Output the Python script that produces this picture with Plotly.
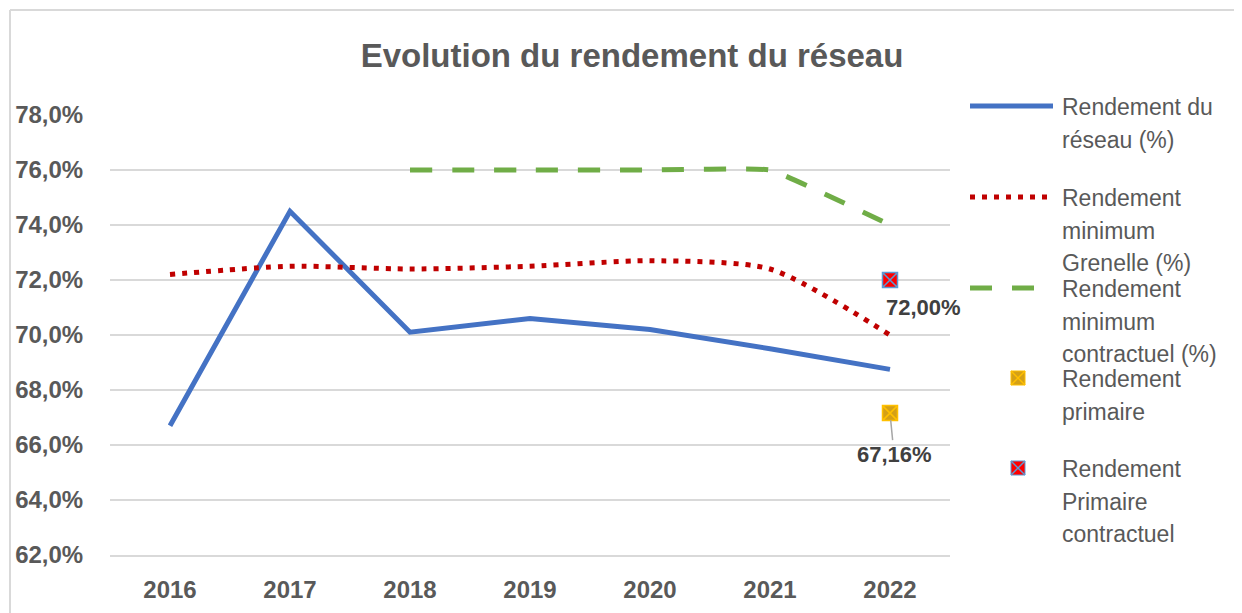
import plotly.graph_objects as go

years = ["2016", "2017", "2018", "2019", "2020", "2021", "2022"]
rendement_reseau = [66.7, 74.5, 70.1, 70.6, 70.2, 69.5, 68.75]
rendement_grenelle = [72.2, 72.5, 72.4, 72.5, 72.7, 72.4, 70.0]
rendement_contractuel = [None, None, 76.0, 76.0, 76.0, 76.0, 74.0]
primaire_x = ["2022"]
rendement_primaire = [67.16]
primaire_contractuel_x = ["2022"]
rendement_primaire_contractuel = [72.00]
y_ticks = [62, 64, 66, 68, 70, 72, 74, 76, 78]
y_tick_labels = ["62,0%", "64,0%", "66,0%", "68,0%", "70,0%", "72,0%", "74,0%", "76,0%", "78,0%"]

BLUE = "#4472C4"
RED = "#C00000"
GREEN = "#70AD47"
GRID = "#D9D9D9"
TXT = "#595959"
FONT = "Liberation Sans"

# the page body has an 8px margin: work in reference pixels, shift by OFF
OFF = 8
W, H = 1242 - OFF, 613 - OFF
L, R, T, B = 110 - OFF, 950 - OFF, 115 - OFF, 555 - OFF


def px2x(px):
    return (px - OFF - L) / (R - L)


def py2y(py):
    return (B - (py - OFF)) / (B - T)


fig = go.Figure()
fig.add_trace(go.Scatter(x=years, y=rendement_reseau, mode="lines",
                         line=dict(color=BLUE, width=5), name="Rendement du réseau (%)"))
fig.add_trace(go.Scatter(x=years, y=rendement_grenelle, mode="lines",
                         line=dict(color=RED, width=5, dash="5px,7px", shape="spline", smoothing=0.7),
                         name="Rendement minimum Grenelle (%)"))
fig.add_trace(go.Scatter(x=years, y=rendement_contractuel, mode="lines",
                         line=dict(color=GREEN, width=5, dash="22px,20px", shape="spline", smoothing=0.25),
                         name="Rendement minimum contractuel (%)"))
fig.add_trace(go.Scatter(x=primaire_x, y=rendement_primaire, mode="markers",
                         marker=dict(symbol="square-x", size=15, color="#D4A017",
                                     line=dict(color="#FFC000", width=1.5)),
                         name="Rendement primaire"))
fig.add_trace(go.Scatter(x=primaire_contractuel_x, y=rendement_primaire_contractuel, mode="markers",
                         marker=dict(symbol="square-x", size=15, color="#FF0000",
                                     line=dict(color="#5B9BD5", width=1.5)),
                         name="Rendement Primaire contractuel"))


def fmt(v):
    return "<b>" + f"{v:.2f}".replace(".", ",") + "%</b>"


annotations = [
    dict(x=years.index(primaire_contractuel_x[0]), y=rendement_primaire_contractuel[0], xref="x", yref="y",
         text=fmt(rendement_primaire_contractuel[0]),
         showarrow=False, xanchor="center", yanchor="middle", xshift=33, yshift=-27,
         font=dict(family=FONT, size=22, color="#404040")),
    dict(x=years.index(primaire_x[0]), y=rendement_primaire[0], xref="x", yref="y",
         text=fmt(rendement_primaire[0]),
         showarrow=True, arrowhead=0, arrowwidth=1.5, arrowcolor="#A6A6A6",
         ax=4, ay=41, standoff=7,
         font=dict(family=FONT, size=22, color="#404040")),
]

shapes = []
# chart border (left and top)
shapes.append(dict(type="line", xref="paper", yref="paper", x0=px2x(10), x1=px2x(10),
                   y0=py2y(10), y1=py2y(640), line=dict(color=GRID, width=2)))
shapes.append(dict(type="line", xref="paper", yref="paper", x0=px2x(10), x1=px2x(1260),
                   y0=py2y(10), y1=py2y(10), line=dict(color=GRID, width=2)))

# manual legend
legend_items = [
    ("line", BLUE, "solid", 106, ["Rendement du", "réseau (%)"]),
    ("line", RED, "5px,7px", 197, ["Rendement", "minimum", "Grenelle (%)"]),
    ("line", GREEN, "22px,20px", 288, ["Rendement", "minimum", "contractuel (%)"]),
    ("marker", ("#D4A017", "#FFC000"), None, 378, ["Rendement", "primaire"]),
    ("marker", ("#FF0000", "#5B9BD5"), None, 468, ["Rendement", "Primaire", "contractuel"]),
]
line_gap = 32.5
for kind, col, dash, ytop, lines in legend_items:
    if kind == "line":
        shapes.append(dict(type="line", xref="paper", yref="paper",
                           x0=px2x(970), x1=px2x(1053), y0=py2y(ytop), y1=py2y(ytop),
                           line=dict(color=col, width=5, dash=dash)))
    else:
        fill, edge = col
        x0, x1, y0, y1 = 1011, 1025, ytop - 7, ytop + 7
        shapes.append(dict(type="rect", xref="paper", yref="paper",
                           x0=px2x(x0), x1=px2x(x1), y0=py2y(y0), y1=py2y(y1),
                           fillcolor=fill, line=dict(color=edge, width=1)))
        shapes.append(dict(type="line", xref="paper", yref="paper",
                           x0=px2x(x0), x1=px2x(x1), y0=py2y(y0), y1=py2y(y1),
                           line=dict(color=edge, width=1.5)))
        shapes.append(dict(type="line", xref="paper", yref="paper",
                           x0=px2x(x0), x1=px2x(x1), y0=py2y(y1), y1=py2y(y0),
                           line=dict(color=edge, width=1.5)))
    for i, t in enumerate(lines):
        annotations.append(dict(xref="paper", yref="paper", x=px2x(1060), y=py2y(ytop + 1 + i * line_gap),
                                text=t, showarrow=False, xanchor="left", yanchor="middle",
                                font=dict(family=FONT, size=23, color=TXT)))

fig.update_layout(
    width=W, height=H,
    margin=dict(l=L, r=W - R, t=T, b=H - B),
    paper_bgcolor="white", plot_bgcolor="white",
    showlegend=False,
    title=dict(text="<b>Evolution du rendement du réseau</b>", x=px2x(632), xref="paper",
               xanchor="center", y=1 - (55 - OFF) / H, yanchor="middle",
               font=dict(family=FONT, size=33, color=TXT)),
    xaxis=dict(type="category", range=[-0.5, 6.5], showgrid=False, showline=True, automargin=False,
               linecolor=GRID, linewidth=1.5, ticks="outside", ticklen=12, tickcolor="rgba(0,0,0,0)",
               tickfont=dict(family=FONT, size=24, color=TXT), tickprefix="<b>", ticksuffix="</b>"),
    yaxis=dict(range=[62, 78], tickvals=y_ticks, ticktext=["<b>" + t + "</b>" for t in y_tick_labels],
               showgrid=True, gridcolor=GRID, gridwidth=1.5, zeroline=False, automargin=False,
               ticks="outside", ticklen=21, tickcolor="rgba(0,0,0,0)",
               tickfont=dict(family=FONT, size=24, color=TXT)),
    annotations=annotations,
    shapes=shapes,
)

fig.write_html("out.html")
